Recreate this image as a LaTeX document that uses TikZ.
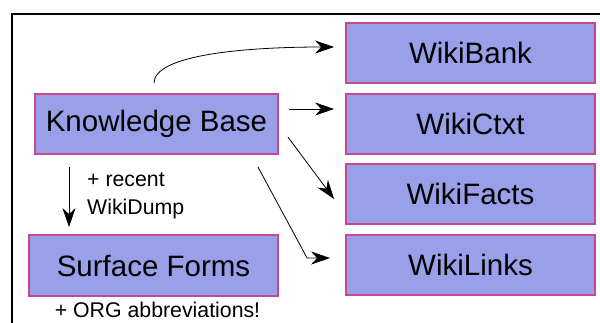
\documentclass[tikz,border=0pt]{standalone}
\usepackage{fontspec}
\setmainfont{Liberation Sans}
\usetikzlibrary{arrows.meta}
\definecolor{boxfill}{RGB}{153,160,234}
\definecolor{boxline}{RGB}{200,72,142}
\tikzset{
  wbox/.style={draw=boxline, line width=1.8pt, fill=boxfill, minimum height=60pt, inner sep=0pt,
    font=\fontsize{29.5}{33}\selectfont},
  conn/.style={line width=0.8pt, -{Stealth[length=19pt,width=13pt,inset=6pt]}},
  small/.style={font=\fontsize{21.3}{28}\selectfont, inner sep=0pt}
}
\begin{document}
\begin{tikzpicture}[x=1pt,y=-1pt]
\useasboundingbox (0,0) rectangle (600,322);
\draw[line width=2.5pt] (12,330) -- (12,14) -- (605,14);
\node[wbox, minimum width=243pt] (kb) at (156.5,124) {Knowledge Base};
\node[wbox, minimum width=249pt] (bank) at (470.5,53) {WikiBank};
\node[wbox, minimum width=249pt] (ctxt) at (470.5,124) {WikiCtxt};
\node[wbox, minimum width=249pt] (facts) at (470.5,194) {WikiFacts};
\node[wbox, minimum width=249pt] (links) at (470.5,265) {WikiLinks};
\node[wbox, minimum width=249pt, minimum height=61pt] (sf) at (153.5,265.5) {Surface Forms};
\node[small, anchor=west, align=left] (lbl) at (87,196) {+ recent\\WikiDump};
\node[small, anchor=base] (abbr) at (157.5,317) {+ ORG abbreviations!};
\draw[conn] ([xshift=-2.5pt,yshift=10pt]kb.north) .. controls ([xshift=-2.5pt,yshift=39pt]kb.north) and ([xshift=-96pt,yshift=6pt]bank.west) .. ([xshift=-11pt,yshift=6pt]bank.west);
\draw[conn] ([xshift=10pt,yshift=15pt]kb.east) -- ([xshift=-11pt,yshift=15pt]ctxt.west);
\draw[conn] ([xshift=9pt,yshift=-13pt]kb.east) -- ([xshift=-11pt,yshift=-5pt]facts.west);
\draw[conn] ([xshift=-21pt,yshift=-12pt]kb.south east) -- ([xshift=-38pt,yshift=7pt]links.west) -- ([xshift=-15pt,yshift=7pt]links.west);
\draw[conn] ([xshift=-87.5pt,yshift=-12pt]kb.south) -- ([xshift=-84.5pt,yshift=7pt]sf.north);
\end{tikzpicture}
\end{document}
